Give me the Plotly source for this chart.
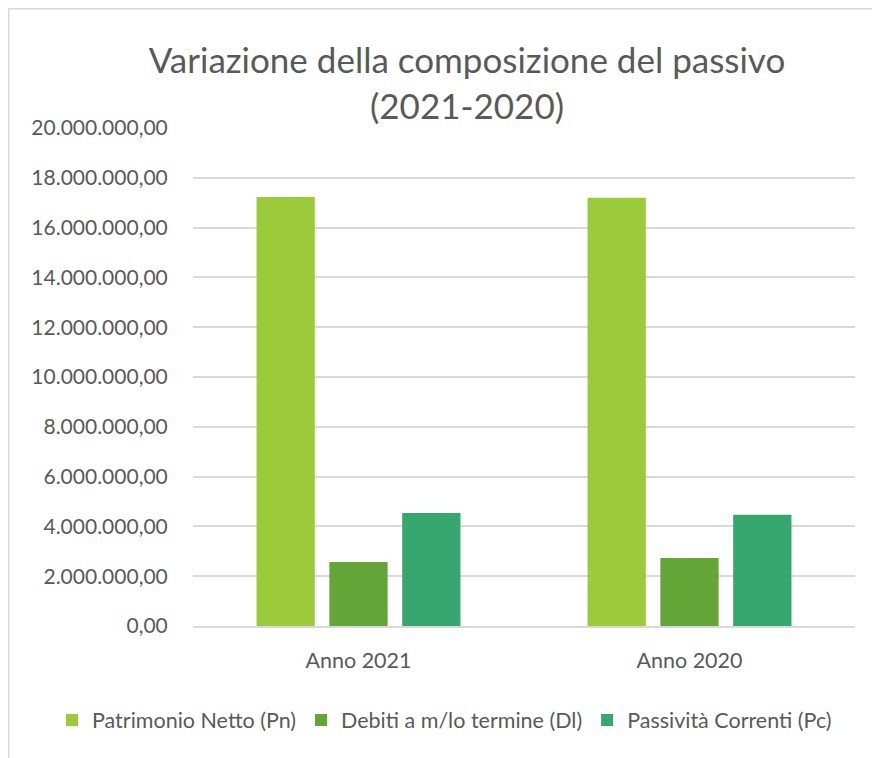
import plotly.graph_objects as go

categories = ["Anno 2021", "Anno 2020"]
series_names = ["Patrimonio Netto (Pn)", "Debiti a m/lo termine (Dl)", "Passività Correnti (Pc)"]
patrimonio_netto = [17230000, 17200000]
debiti_ml_termine = [2570000, 2730000]
passivita_correnti = [4540000, 4470000]
colors = ["#9BCB3B", "#63A537", "#37A76F"]

# the page body has an 8px margin, so the figure is sized to fit inside it
W, H = 872, 750
L, R, T, B = 185, 25, 120, 132

fig = go.Figure()
for name, vals, c in zip(series_names, [patrimonio_netto, debiti_ml_termine, passivita_correnti], colors):
    fig.add_trace(go.Bar(x=categories, y=vals, name=name, marker=dict(color=c, line=dict(width=0))))

pw, ph = W - L - R, H - T - B
fig.add_shape(type="rect", xref="paper", yref="paper",
              x0=(0 - L) / pw, x1=(W + 20 - L) / pw,
              y0=(H - B - (H + 20)) / ph, y1=(H - B - 0) / ph,
              line=dict(color="#D9D9D9", width=3), fillcolor="rgba(0,0,0,0)", layer="below")

fig.update_layout(
    width=W, height=H,
    margin=dict(l=L, r=R, t=T, b=B),
    paper_bgcolor="white", plot_bgcolor="white",
    font=dict(family="Lato", color="#595959", size=20),
    separators=",.",
    title=dict(text="Variazione della composizione del passivo<br>(2021-2020)",
               x=459 / W, xanchor="center", y=1 - 65 / H, yanchor="middle",
               font=dict(size=35, color="#595959")),
    barmode="group", bargap=0.34, bargroupgap=0.2,
    legend=dict(orientation="h", x=(44 - L) / pw, xanchor="left",
                y=(H - B - 712) / ph, yanchor="middle",
                font=dict(size=21.5, color="#595959"), itemwidth=30, traceorder="normal"),
    showlegend=True,
)
fig.update_xaxes(showgrid=False, showline=True, linecolor="#D9D9D9", linewidth=2,
                 ticks="outside", ticklen=14, tickcolor="rgba(0,0,0,0)",
                 tickfont=dict(size=21.5, color="#595959"))
fig.update_yaxes(range=[0, 20000000], dtick=2000000, tickformat=",.2f",
                 gridcolor="#D9D9D9", gridwidth=1.5, zeroline=False,
                 ticks="outside", ticklen=20, tickcolor="rgba(0,0,0,0)",
                 tickfont=dict(size=21, color="#595959"))

fig.write_html("out.html")
